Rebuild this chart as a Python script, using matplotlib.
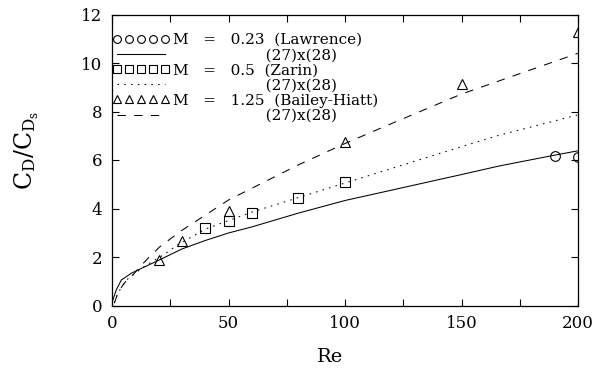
import matplotlib
matplotlib.use("Agg")
import matplotlib.pyplot as plt
from matplotlib.ticker import MultipleLocator

plt.rcParams['font.family'] = ['DejaVu Serif']
plt.rcParams['mathtext.fontset'] = 'dejavuserif'

# Experimental points
re_lawrence = [190, 200]
cd_lawrence = [6.18, 6.12]
re_zarin = [40, 50, 60, 80, 100]
cd_zarin = [3.2, 3.49, 3.81, 4.43, 5.1]
re_bailey = [20, 30, 50, 100, 150, 200]
cd_bailey = [1.88, 2.66, 3.88, 6.74, 9.12, 11.28]

# Model curves (27)x(28)
re_m023 = [0.4, 1.8, 4, 8.3, 12.6, 19.7, 30, 40, 50, 60, 80, 100, 115, 150, 166, 190, 200]
cd_m023 = [0.23, 0.64, 1.05, 1.33, 1.53, 1.85, 2.33, 2.68, 2.99, 3.24, 3.81, 4.33, 4.65, 5.4, 5.75, 6.2, 6.38]
re_m05 = [1, 2.5, 4.7, 7, 9, 13, 17, 22, 27, 30, 40, 50, 60, 80, 100, 115, 150, 166.5, 200]
cd_m05 = [0.1, 0.5, 0.85, 1.12, 1.26, 1.55, 1.8, 2.08, 2.42, 2.6, 3.15, 3.5, 3.85, 4.45, 5.05, 5.5, 6.55, 7.03, 7.86]
re_m125 = [1, 2.5, 4.7, 7, 9, 12, 16, 20.5, 30, 50, 80, 100, 115, 150, 200]
cd_m125 = [0.1, 0.5, 0.85, 1.12, 1.26, 1.6, 2.0, 2.42, 3.1, 4.35, 5.8, 6.68, 7.3, 8.72, 10.4]

labels = ["M   =   0.23  (Lawrence)", "(27)x(28)",
          "M   =   0.5  (Zarin)", "(27)x(28)",
          "M   =   1.25  (Bailey-Hiatt)", "(27)x(28)"]

fig = plt.figure(figsize=(6.02, 3.70), dpi=100)
ax = fig.add_axes([112/602, 1-305.5/370, (578-112)/602, (305.5-14.5)/370])

pad = " " * 19
mk = dict(mfc='none', mec='black', mew=0.8, ms=7, ls='none')
lw = 0.75
ax.plot(re_lawrence, cd_lawrence, marker='o', label=labels[0], **mk)
ax.plot(re_m023, cd_m023, color='black', lw=lw, ls='-', label=pad + labels[1])
ax.plot(re_zarin, cd_zarin, marker='s', label=labels[2], **mk)
ax.plot(re_m05, cd_m05, color='black', lw=lw, ls=(0, (1.5, 5)), label=pad + labels[3])
ax.plot(re_bailey, cd_bailey, marker='^', label=labels[4], **mk)
ax.plot(re_m125, cd_m125, color='black', lw=lw, ls=(0, (8, 8)), label=pad + labels[5])

ax.set_xlim(0, 200)
ax.set_ylim(0, 12)
ax.xaxis.set_major_locator(MultipleLocator(50))
ax.xaxis.set_minor_locator(MultipleLocator(25))
ax.yaxis.set_major_locator(MultipleLocator(2))
ax.tick_params(which='both', direction='in', top=True, right=True, width=0.8)
ax.tick_params(which='major', length=5, labelsize=12, pad=7)
ax.tick_params(which='minor', length=5)
for s in ax.spines.values():
    s.set_linewidth(0.9)

ax.set_xlabel("Re", fontsize=14)
ax.xaxis.set_label_coords((330 - 112) / 466, (305.5 - 348) / 291)
ax.set_ylabel(r"$\mathregular{C_D/C_{D_s}}$", fontsize=17)
ax.yaxis.set_label_coords((41 - 112) / 466, (305.5 - 150) / 291)

leg = ax.legend(loc='upper left', bbox_to_anchor=(0.0, 0.936), frameon=False,
                numpoints=5, markerscale=0.8, fontsize=11, handlelength=3.75,
                handletextpad=0.23, labelspacing=0.07, borderpad=0, borderaxespad=0)

fig.savefig("out.png", dpi=100)
